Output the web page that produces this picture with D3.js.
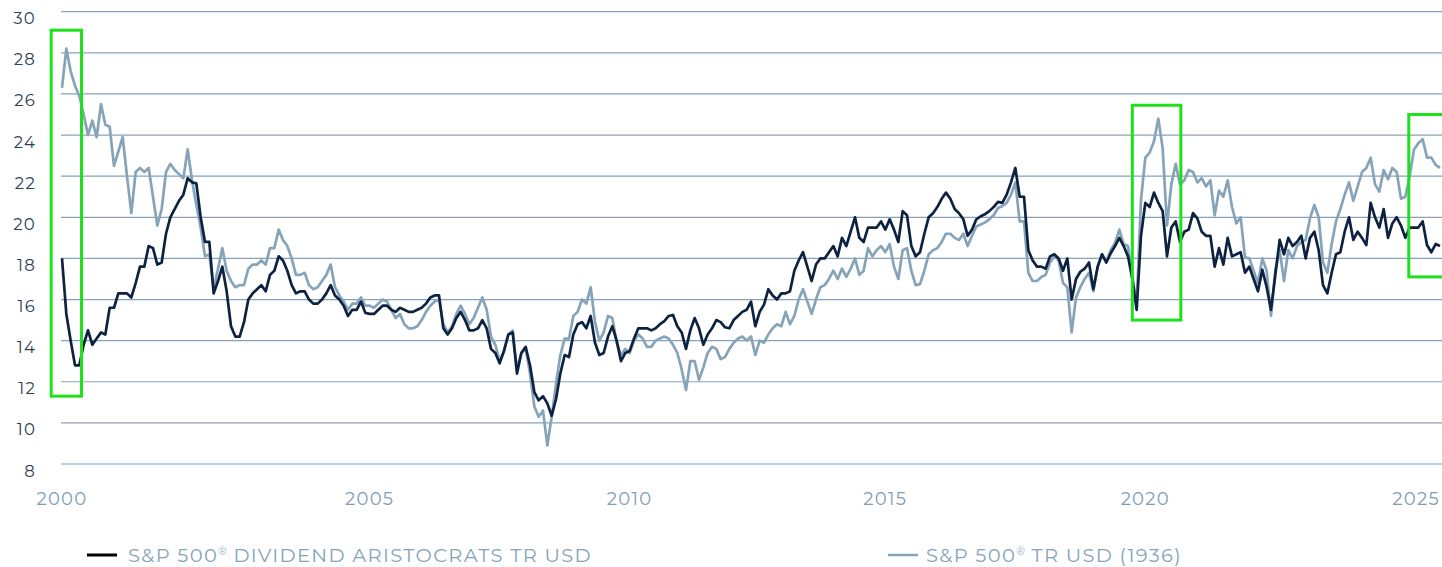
<!DOCTYPE html>
<meta charset='utf-8'>
<title>Dividend Aristocrats vs S&P 500</title>
<style>
body {
  margin: 0;
  background-color: #fff;
}
text {
  font-family: Montserrat, "Open Sans", sans-serif;
}
</style>
<svg width="1442" height="567"></svg>
<script src="https://d3js.org/d3.v7.min.js"></script>
<script>

// monthly values, oldest first
var aristocrats = [
  18.0, 15.3, 14.0, 12.8, 12.8, 13.8, 14.5, 13.8, 14.1, 14.4, 14.3, 15.6, 15.6, 16.3, 16.3, 16.3,
  16.1, 16.8, 17.6, 17.6, 18.6, 18.5, 17.7, 17.8, 19.2, 20.0, 20.4, 20.8, 21.1, 21.9, 21.7, 21.65,
  20.0, 18.8, 18.8, 16.3, 16.9, 17.6, 16.4, 14.7, 14.2, 14.2, 14.9, 16.0, 16.3, 16.5, 16.7, 16.4,
  17.2, 17.4, 18.1, 17.9, 17.4, 16.7, 16.3, 16.4, 16.4, 16.0, 15.8, 15.8, 16.0, 16.3, 16.7, 16.2,
  16.0, 15.7, 15.2, 15.5, 15.5, 15.9, 15.35, 15.3, 15.3, 15.5,
  15.7, 15.7, 15.5, 15.4, 15.6, 15.5, 15.4, 15.4, 15.5, 15.6, 15.8, 16.1, 16.2, 16.2, 14.6, 14.3,
  14.6, 15.1, 15.4, 15.0, 14.5, 14.5, 14.6, 15.0, 14.6, 13.6, 13.4, 12.9, 13.5, 14.3, 14.4, 12.4,
  13.4, 13.7, 12.8, 11.5, 11.1, 11.3, 10.95, 10.35, 11.15, 12.4,
  13.3, 13.2, 14.3, 14.8, 14.9, 14.6, 15.2, 13.9, 13.3, 13.4, 14.2, 14.7, 14.0, 13.0, 13.4, 13.5,
  14.1, 14.6, 14.6, 14.6, 14.5, 14.6, 14.8, 14.95, 15.2, 15.25, 14.7, 14.4, 13.6, 14.5, 15.1, 14.6,
  13.8, 14.3, 14.6, 15.0, 14.9, 14.65, 14.6, 15.0, 15.2,
  15.4, 15.5, 15.9, 14.7, 15.4, 15.75, 16.5, 16.2, 16.0, 16.3, 16.3, 16.4, 17.4, 17.9, 18.3, 17.6,
  16.9, 17.7, 18.0, 18.0, 18.3, 18.6, 18.1, 19.0, 18.6, 19.3, 20.0, 19.0, 18.8, 19.5, 19.5, 19.5,
  19.8, 19.4, 19.9, 19.4, 18.8, 20.3, 20.1, 18.6, 18.1, 18.3,
  19.2, 20.0, 20.2, 20.5, 20.9, 21.2, 20.9, 20.4, 20.2, 19.9, 19.1, 19.4, 19.9, 20.05, 20.15, 20.3,
  20.5, 20.75, 20.7, 21.1, 21.7, 22.4, 21.0, 21.0, 18.4, 17.9, 17.6, 17.6, 17.5, 18.1, 18.2, 18.0,
  17.4, 18.0, 16.0, 17.0, 17.35, 17.5, 17.8, 16.5, 17.6,
  18.2, 17.8, 18.25, 18.6, 19.0, 18.6, 18.1, 17.0, 15.5, 19.1, 20.7, 20.5, 21.2, 20.7, 20.3, 18.1,
  19.5, 19.8, 18.8, 19.3, 19.4, 20.2, 19.95, 19.3, 19.1, 19.1, 17.6, 18.5, 17.7, 19.0, 18.1, 18.2,
  18.3, 17.3, 17.6, 17.0, 16.4, 17.45, 16.6, 15.5,
  17.2, 18.9, 18.2, 19.0, 18.6, 18.8, 19.1, 18.0, 19.0, 19.3, 18.4, 16.7, 16.3, 17.3, 18.2, 18.3,
  19.3, 20.0, 18.9, 19.3, 19.0, 18.65, 20.7, 20.0, 19.5, 20.4, 19.0, 19.7, 20.0, 19.6, 19.0, 19.5,
  19.5, 19.5, 19.8, 18.65, 18.3, 18.7, 18.6
];

var sp500 = [
  26.3, 28.2, 27.1, 26.4, 25.9, 25.0, 24.0, 24.7, 23.9, 25.5, 24.5, 24.4, 22.5, 23.2, 23.9, 22.0,
  20.2, 22.2, 22.4, 22.2, 22.4, 21.0, 19.6, 20.4, 22.2, 22.6, 22.3, 22.1, 21.9, 23.3, 21.8, 20.6,
  19.5, 18.1, 18.2, 16.5, 17.5, 18.5, 17.4, 16.9, 16.6, 16.7, 16.7, 17.5, 17.7, 17.7, 17.9, 17.7,
  18.5, 18.5, 19.4, 18.9, 18.6, 18.0, 17.2, 17.2, 17.3, 16.7, 16.5, 16.6, 16.9, 17.2, 17.7, 16.6,
  16.2, 15.9, 15.5, 15.8, 15.8, 16.1, 15.7, 15.7, 15.6, 15.8,
  16.0, 15.9, 15.5, 15.1, 15.3, 14.8, 14.6, 14.6, 14.7, 15.0, 15.4, 15.7, 15.9, 16.0, 14.8, 14.4,
  14.7, 15.3, 15.7, 15.3, 14.8, 15.1, 15.6, 16.1, 15.5, 14.2, 13.8, 13.0, 13.5, 14.3, 14.5, 12.6,
  13.4, 13.6, 12.4, 10.8, 10.3, 10.6, 8.9, 10.3, 11.9, 13.3,
  14.1, 14.1, 15.2, 15.4, 16.0, 15.8, 16.6, 14.9, 14.0, 14.4, 15.2, 15.1, 13.9, 13.3, 13.6, 13.4,
  14.0, 14.3, 14.1, 13.7, 13.7, 14.0, 14.1, 14.2, 14.1, 13.8, 13.4, 12.6, 11.6, 13.0, 13.0, 12.1,
  12.7, 13.4, 13.7, 13.6, 13.1, 13.2, 13.6, 13.9, 14.1,
  14.2, 14.0, 14.2, 13.3, 14.0, 13.9, 14.3, 14.6, 14.8, 14.7, 15.4, 14.8, 15.2, 16.0, 16.5, 15.9,
  15.3, 16.0, 16.6, 16.7, 17.0, 17.4, 17.0, 17.5, 17.1, 17.5, 18.0, 17.2, 17.4, 18.5, 18.1, 18.4,
  18.6, 18.3, 18.7, 17.6, 17.0, 18.4, 18.5, 17.4, 16.7, 16.75,
  17.4, 18.2, 18.4, 18.5, 18.8, 19.2, 19.2, 19.0, 18.9, 19.2, 18.6, 19.1, 19.55, 19.65, 19.75, 19.9,
  20.1, 20.45, 20.55, 20.7, 21.1, 21.7, 19.8, 19.8, 17.3, 16.9, 16.9, 17.1, 17.2, 17.8, 18.1, 17.9,
  16.8, 16.6, 14.4, 16.1, 16.6, 17.0, 17.3, 16.4, 17.6,
  18.2, 17.85, 18.4, 18.75, 19.4, 18.7, 18.6, 17.1, 15.8, 20.85, 22.9, 23.15, 23.7, 24.8, 23.35, 19.6,
  21.6, 22.6, 21.6, 21.8, 22.3, 22.2, 21.7, 21.9, 21.5, 21.8, 20.1, 21.3, 21.0, 21.8, 20.5, 19.7,
  20.0, 18.05, 18.0, 17.4, 16.8, 18.0, 17.4, 15.2,
  17.45, 18.4, 16.9, 18.4, 18.0, 18.6, 18.8, 18.9, 19.95, 20.6, 20.0, 17.8, 17.3, 18.7, 19.8, 20.4,
  21.1, 21.7, 20.8, 21.5, 22.2, 22.4, 22.9, 21.6, 21.25, 22.3, 21.85, 22.4, 22.2, 20.9, 21.0, 22.0,
  23.3, 23.6, 23.8, 22.9, 22.9, 22.55, 22.4
];

// where the year labels sit along the series (month index)
var tickIndex = [0, 71, 131, 190, 250, 313];
var tickLabels = ["2000", "2005", "2010", "2015", "2020", "2025"];

var yTicks = [8, 10, 12, 14, 16, 18, 20, 22, 24, 26, 28, 30];

// highlighted periods: month index range and value range
var boxFrom = [-2.5, 247, 310.8];
var boxTo   = [4.5, 258.2, 323];
var boxLow  = [11.3, 15.0, 17.1];
var boxHigh = [29.1, 25.45, 25.0];

var seriesNames = ["S&P 500\u00AE DIVIDEND ARISTOCRATS TR USD", "S&P 500\u00AE TR USD (1936)"];

var svg = d3.select("svg");

var x = d3.scaleLinear()
    .domain([0, aristocrats.length - 1])
    .range([62, 1440]);

var y = d3.scaleLinear()
    .domain([8, 30])
    .range([464, 11.7]);

// gridlines
svg.append("g")
  .selectAll("line")
    .data(yTicks)
  .enter().append("line")
    .attr("x1", 61)
    .attr("x2", 1442)
    .attr("y1", function(d) { return y(d); })
    .attr("y2", function(d) { return y(d); })
    .attr("stroke", "#86a2b8")
    .attr("stroke-width", 1.2);

// y labels sit a little below their gridline
svg.append("g")
  .selectAll("text")
    .data(yTicks)
  .enter().append("text")
    .attr("x", 36)
    .attr("y", function(d) { return y(d) + 12.5; })
    .attr("text-anchor", "end")
    .attr("font-size", 16.5)
    .attr("letter-spacing", 1.2)
    .attr("fill", "#2e3d52")
    .text(function(d) { return d; });

// x labels, the last one kept inside the right edge
svg.append("g")
  .selectAll("text")
    .data(tickIndex)
  .enter().append("text")
    .attr("x", function(d, i) { return i === tickIndex.length - 1 ? 1440 : x(d); })
    .attr("y", 505)
    .attr("text-anchor", function(d, i) { return i === tickIndex.length - 1 ? "end" : "middle"; })
    .attr("font-size", 18)
    .attr("letter-spacing", 1.3)
    .attr("fill", "#7f9db5")
    .text(function(d, i) { return tickLabels[i]; });

var line = d3.line()
    .x(function(d, i) { return x(i); })
    .y(function(d) { return y(d); });

svg.append("path")
    .datum(sp500)
    .attr("fill", "none")
    .attr("stroke", "#86a4b9")
    .attr("stroke-width", 2.7)
    .attr("stroke-linejoin", "round")
    .attr("d", line);

svg.append("path")
    .datum(aristocrats)
    .attr("fill", "none")
    .attr("stroke", "#0d2240")
    .attr("stroke-width", 2.7)
    .attr("stroke-linejoin", "round")
    .attr("d", line);

// green highlight boxes
svg.append("g")
  .selectAll("rect")
    .data(boxFrom)
  .enter().append("rect")
    .attr("x", function(d) { return x(d); })
    .attr("y", function(d, i) { return y(boxHigh[i]); })
    .attr("width", function(d, i) { return x(boxTo[i]) - x(d); })
    .attr("height", function(d, i) { return y(boxLow[i]) - y(boxHigh[i]); })
    .attr("fill", "none")
    .attr("stroke", "#1ee01b")
    .attr("stroke-width", 3);

// legend (the registered mark is set small and raised)
var legend = svg.append("g");
var legendX = [87, 888];
var legendColor = ["#000", "#86a4b9"];

seriesNames.forEach(function(name, i) {
  var parts = name.split("\u00AE");
  legend.append("line")
      .attr("x1", legendX[i])
      .attr("x2", legendX[i] + 30)
      .attr("y1", 555)
      .attr("y2", 555)
      .attr("stroke", legendColor[i])
      .attr("stroke-width", i === 0 ? 3 : 2.5);
  var t = legend.append("text")
      .attr("x", legendX[i] + (i === 0 ? 41 : 38))
      .attr("y", 562)
      .attr("font-size", 19.5)
      .attr("letter-spacing", 1.3)
      .attr("fill", "#86a3b9");
  t.append("tspan").text(parts[0]);
  t.append("tspan")
      .attr("font-size", 11)
      .attr("dy", -7)
      .attr("letter-spacing", 0)
      .text("\u00AE");
  t.append("tspan")
      .attr("dy", 7)
      .text(parts[1]);
});
</script>
